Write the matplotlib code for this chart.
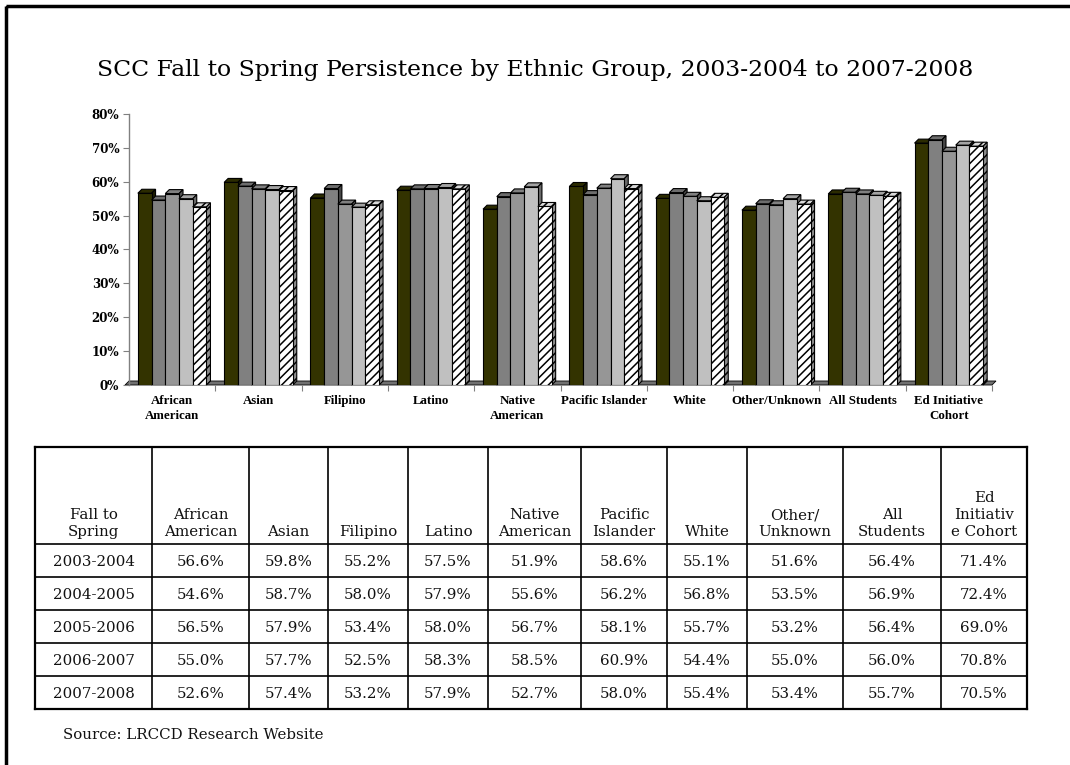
import numpy as np
import matplotlib.pyplot as plt
import matplotlib.colors as mcolors
from matplotlib.patches import Polygon, Rectangle

# Categories (chart labels and table headers)
groups = ["African\nAmerican", "Asian", "Filipino", "Latino", "Native\nAmerican",
          "Pacific Islander", "White", "Other/Unknown", "All Students",
          "Ed Initiative\nCohort"]
table_heads = ["Fall to\nSpring", "African\nAmerican", "Asian", "Filipino", "Latino",
               "Native\nAmerican", "Pacific\nIslander", "White", "Other/\nUnknown",
               "All\nStudents", "Ed\nInitiativ\ne Cohort"]
years = ["2003-2004", "2004-2005", "2005-2006", "2006-2007", "2007-2008"]

# Persistence rates (%) per academic year
y2003 = [56.6, 59.8, 55.2, 57.5, 51.9, 58.6, 55.1, 51.6, 56.4, 71.4]
y2004 = [54.6, 58.7, 58.0, 57.9, 55.6, 56.2, 56.8, 53.5, 56.9, 72.4]
y2005 = [56.5, 57.9, 53.4, 58.0, 56.7, 58.1, 55.7, 53.2, 56.4, 69.0]
y2006 = [55.0, 57.7, 52.5, 58.3, 58.5, 60.9, 54.4, 55.0, 56.0, 70.8]
y2007 = [52.6, 57.4, 53.2, 57.9, 52.7, 58.0, 55.4, 53.4, 55.7, 70.5]
series = [y2003, y2004, y2005, y2006, y2007]

colors = ["#333300", "#808080", "#969696", "#c0c0c0", "#ffffff"]
hatches = [None, None, None, None, "////"]

W, H = 1070, 765
plt.rcParams["hatch.linewidth"] = 1.1
fig = plt.figure(figsize=(W / 100, H / 100), dpi=100)

# ---- bar chart -------------------------------------------------------------
ax_l, ax_r, ax_b, ax_t = 129, 992, 385, 114
ax = fig.add_axes([ax_l / W, 1 - ax_b / H, (ax_r - ax_l) / W, (ax_b - ax_t) / H])
ax.set_xlim(-0.5, 9.5)
ax.set_ylim(0, 80)

# depth of the fake 3D effect, 4 px converted to data units
px_x = (ax_r - ax_l) / 10.0
px_y = (ax_b - ax_t) / 80.0
dx, dy = 4 / px_x, 4 / px_y

def shade(c, f):
    r, g, b = mcolors.to_rgb(c)
    return (r * f, g * f, b * f)

# floor
ax.add_patch(Polygon([(-0.5 - dx, 0), (9.5, 0), (9.5 + dx, dy), (-0.5, dy)],
                     closed=True, facecolor="#707070", edgecolor="black",
                     linewidth=0.6, zorder=1, clip_on=False))

bw = 0.159
x = np.arange(len(groups))
for i, vals in enumerate(series):
    bars = ax.bar(x + (i - 2) * bw, vals, width=bw, color=colors[i],
                  edgecolor="black", linewidth=0.8, hatch=hatches[i],
                  zorder=3 + i + 0.5)
    for b in bars:
        x0, w, h = b.get_x(), b.get_width(), b.get_height()
        top = Polygon([(x0, h), (x0 + w, h), (x0 + w + dx, h + dy), (x0 + dx, h + dy)],
                      closed=True, facecolor=shade(colors[i], 0.85), edgecolor="black",
                      linewidth=0.8, hatch=hatches[i], zorder=3 + i, clip_on=False)
        side = Polygon([(x0 + w, 0), (x0 + w + dx, dy), (x0 + w + dx, h + dy), (x0 + w, h)],
                       closed=True, facecolor=shade(colors[i], 0.55), edgecolor="black",
                       linewidth=0.8, hatch=hatches[i], zorder=3 + i, clip_on=False)
        ax.add_patch(top)
        ax.add_patch(side)

for s in ["top", "right", "bottom"]:
    ax.spines[s].set_visible(False)
ax.spines["left"].set_color("#808080")
ax.spines["left"].set_linewidth(1.0)

ax.set_yticks(range(0, 81, 10))
ax.set_yticklabels([f"{v}%" for v in range(0, 81, 10)],
                   fontfamily="DejaVu Serif", fontweight="bold", fontsize=8.6)
ax.tick_params(axis="y", length=4, color="#808080", pad=3)

ax.set_xticks(np.arange(0.5, 10, 1.0))
ax.set_xticklabels([])
ax.tick_params(axis="x", which="major", length=4, color="#808080")
ax.set_xticks(x, minor=True)
ax.set_xticklabels(groups, minor=True, fontfamily="Liberation Serif",
                   fontweight="bold", fontsize=9.3, linespacing=1.4)
ax.tick_params(axis="x", which="minor", length=0, pad=7)

# ---- overlay in pixel coordinates: frame, title, table, source --------------
ov = fig.add_axes([0, 0, 1, 1], zorder=-1)
ov.set_xlim(0, W)
ov.set_ylim(H, 0)
ov.axis("off")

ov.add_patch(Rectangle((6, 6), W + 50, H + 50, fill=False, edgecolor="black",
                       linewidth=2.5))

ov.text(535, 70, "SCC Fall to Spring Persistence by Ethnic Group, 2003-2004 to 2007-2008",
        ha="center", va="center", fontfamily="DejaVu Serif", fontsize=16.9)

col_edges = [35, 152, 249, 328, 408, 488, 581, 667, 747, 843, 941, 1027]
row_edges = [447, 544, 577, 610, 643, 676, 709]

for cx in col_edges:
    lw = 1.6 if cx in (col_edges[0], col_edges[-1]) else 1.2
    ov.plot([cx, cx], [row_edges[0], row_edges[-1]], color="black", linewidth=lw)
for ry in row_edges:
    lw = 1.6 if ry in (row_edges[0], row_edges[-1]) else 1.2
    ov.plot([col_edges[0], col_edges[-1]], [ry, ry], color="black", linewidth=lw)

cell_font = dict(fontfamily="DejaVu Serif", fontsize=10.8, color="#111111")
for j, head in enumerate(table_heads):
    cx = (col_edges[j] + col_edges[j + 1]) / 2
    ov.text(cx, row_edges[1] - 5, head, ha="center", va="bottom",
            multialignment="center", linespacing=1.25, **cell_font)

for r, (yr, vals) in enumerate(zip(years, series)):
    cy = (row_edges[r + 1] + row_edges[r + 2]) / 2 + 1.5
    ov.text((col_edges[0] + col_edges[1]) / 2, cy, yr, ha="center", va="center", **cell_font)
    for j, v in enumerate(vals):
        cx = (col_edges[j + 1] + col_edges[j + 2]) / 2
        ov.text(cx, cy, f"{v:.1f}%", ha="center", va="center", **cell_font)

ov.text(63, 735, "Source: LRCCD Research Website", ha="left", va="center", **cell_font)

fig.savefig("out.png", dpi=100)
